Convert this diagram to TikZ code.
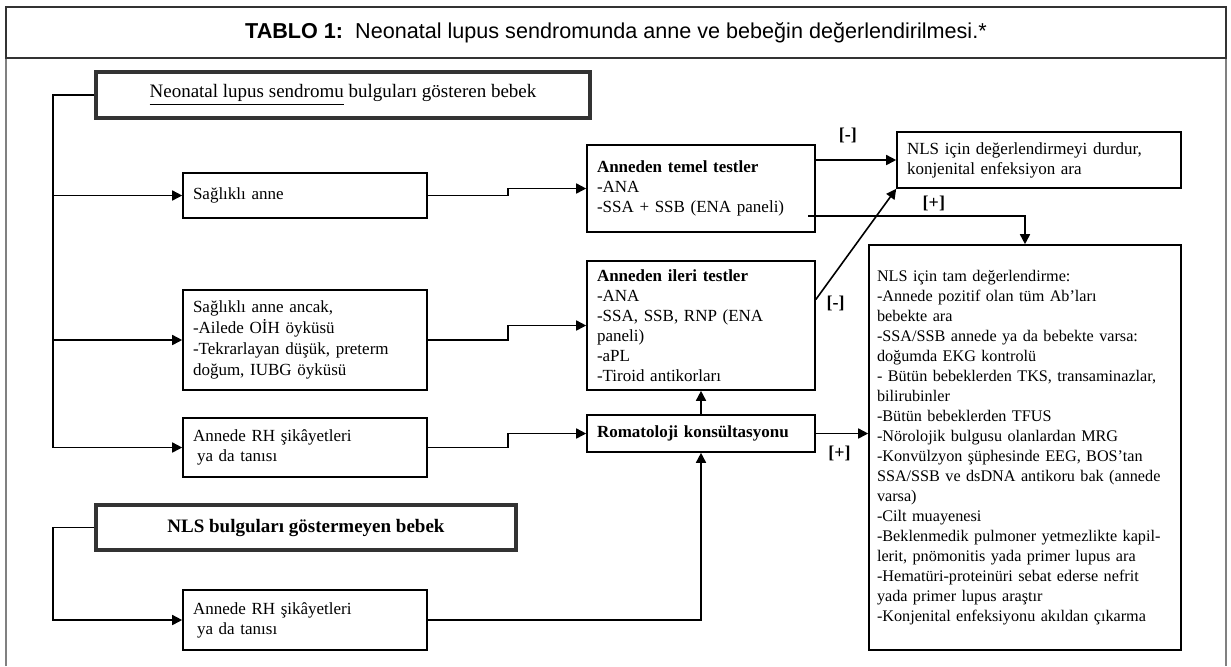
\documentclass[tikz,border=0pt]{standalone}
\usepackage{fontspec}
\setmainfont{Liberation Serif}
\newfontfamily\headfont{Liberation Sans}
\usetikzlibrary{arrows.meta,positioning}

\begin{document}
\begin{tikzpicture}[x=0.5pt,y=-0.5pt,>={Triangle[length=5pt,width=5pt]},
  box/.style={draw,line width=0.8pt,align=left,inner xsep=5pt,inner ysep=2pt,font=\fontsize{8.5}{10}\selectfont},
  headbox/.style={draw=black!80,line width=2pt,align=center,font=\fontsize{9.5}{11}\selectfont},
  sign/.style={font=\fontsize{9}{10}\selectfont\bfseries,inner sep=1pt},
  line/.style={line width=0.8pt}]
\useasboundingbox (0,0) rectangle (1231,666);
% frame and title
\draw[black!50,line width=1pt] (6,666) -- (6,58) (1226,58) -- (1226,666);
\node[draw=black!80,line width=1.2pt,minimum width=610pt,minimum height=25.5pt,inner sep=0pt,
  font=\headfont\fontsize{10.8}{13}\selectfont] (title) at (616,32.5)
  {\textbf{TABLO 1:}\ \ Neonatal lupus sendromunda anne ve bebeğin değerlendirilmesi.*};

% infants
\node[headbox,minimum width=247pt,minimum height=23pt] (neo) at (343,95) {\underline{Neonatal lupus sendromu} bulguları gösteren bebek};
\node[headbox,font=\fontsize{9.5}{11}\selectfont\bfseries,minimum width=210pt,minimum height=22.5pt] (nlsyok) at (306,527.5) {NLS bulguları göstermeyen bebek};

% mothers
\node[box,text width=112pt,minimum height=22.5pt] (saglik) at (305,195.5) {Sağlıklı anne};
\node[box,text width=112pt,minimum height=50pt,font=\fontsize{8.5}{10.5}\selectfont] (ancak) at (305,340) {Sağlıklı anne ancak,\\-Ailede OİH öyküsü\\-Tekrarlayan düşük, preterm\\doğum, IUBG öyküsü};
\node[box,text width=112pt,minimum height=29.5pt] (rhone) at (305,447.5) {Annede RH şikâyetleri\\\hspace*{2pt}ya da tanısı};
\node[box,text width=112pt,minimum height=30pt] (rhtwo) at (305,620) {Annede RH şikâyetleri\\\hspace*{2pt}ya da tanısı};

% tests
\node[box,text width=104pt,minimum height=43.5pt] (temel) at (701,188.5) {\textbf{Anneden temel testler}\\-ANA\\-SSA + SSB (ENA paneli)};
\node[box,text width=104pt,minimum height=64.5pt] (ileri) at (701,325.5) {\textbf{Anneden ileri testler}\\-ANA\\-SSA, SSB, RNP (ENA\\paneli)\\-aPL\\-Tiroid antikorları};
\node[box,text width=104pt,minimum height=18.5pt] (roma) at (701,433.5) {\textbf{Romatoloji konsültasyonu}};

% results
\node[box,text width=132pt,minimum height=28pt] (durdur) at (1039,160) {NLS için değerlendirmeyi durdur,\\konjenital enfeksiyon ara};
\node[box,text width=148pt,inner xsep=4pt,minimum height=202.5pt,font=\fontsize{8.1}{10}\selectfont] (tam) at (1025,447.5) {NLS için tam değerlendirme:\\-Annede pozitif olan tüm Ab’ları\\bebekte ara\\-SSA/SSB annede ya da bebekte varsa:\\doğumda EKG kontrolü\\- Bütün bebeklerden TKS, transaminazlar,\\bilirubinler\\-Bütün bebeklerden TFUS\\-Nörolojik bulgusu olanlardan MRG\\-Konvülzyon şüphesinde EEG, BOS’tan\\SSA/SSB ve dsDNA antikoru bak (annede\\varsa)\\-Cilt muayenesi\\-Beklenmedik pulmoner yetmezlikte kapil-\\lerit, pnömonitis yada primer lupus ara\\-Hematüri-proteinüri sebat ederse nefrit\\yada primer lupus araştır\\-Konjenital enfeksiyonu akıldan çıkarma};

% connectors
\coordinate (bus) at (53,95);
\coordinate (plus) at (808,216);
\draw[line,->] (neo.west) -- (bus) |- (rhone.west);
\draw[line,->] (bus |- saglik.west) -- (saglik.west);
\draw[line,->] (bus |- ancak.west) -- (ancak.west);
\draw[line,->] (nlsyok.west) -- (bus |- nlsyok.west) |- (rhtwo.west);
\draw[line,->] (saglik.east) -- ++(80,0) |- (temel.west);
\draw[line,->] (ancak.east) -- ++(80,0) |- (ileri.west);
\draw[line,->] (rhone.east) -- ++(80,0) |- (roma.west);
\draw[line,->] (rhtwo.east) -| (roma.south);
\draw[line,->] (roma.north) -- (ileri.south);
\draw[line,->] (roma.east) -- (roma.east -| tam.west) node[sign,pos=0.45,below=5pt] {[+]};
\draw[line,->] (temel.east |- durdur.west) -- (durdur.west) node[sign,pos=0.4,above=7pt] {[-]};
\draw[line,->] ([yshift=13pt]ileri.east) -- (durdur.south west) node[sign,pos=0,anchor=west,xshift=4pt,yshift=-2pt] {[-]};
\draw[line,->] (plus) -| (tam.north) node[sign,pos=0.29,above=1pt] {[+]};
\end{tikzpicture}
\end{document}
